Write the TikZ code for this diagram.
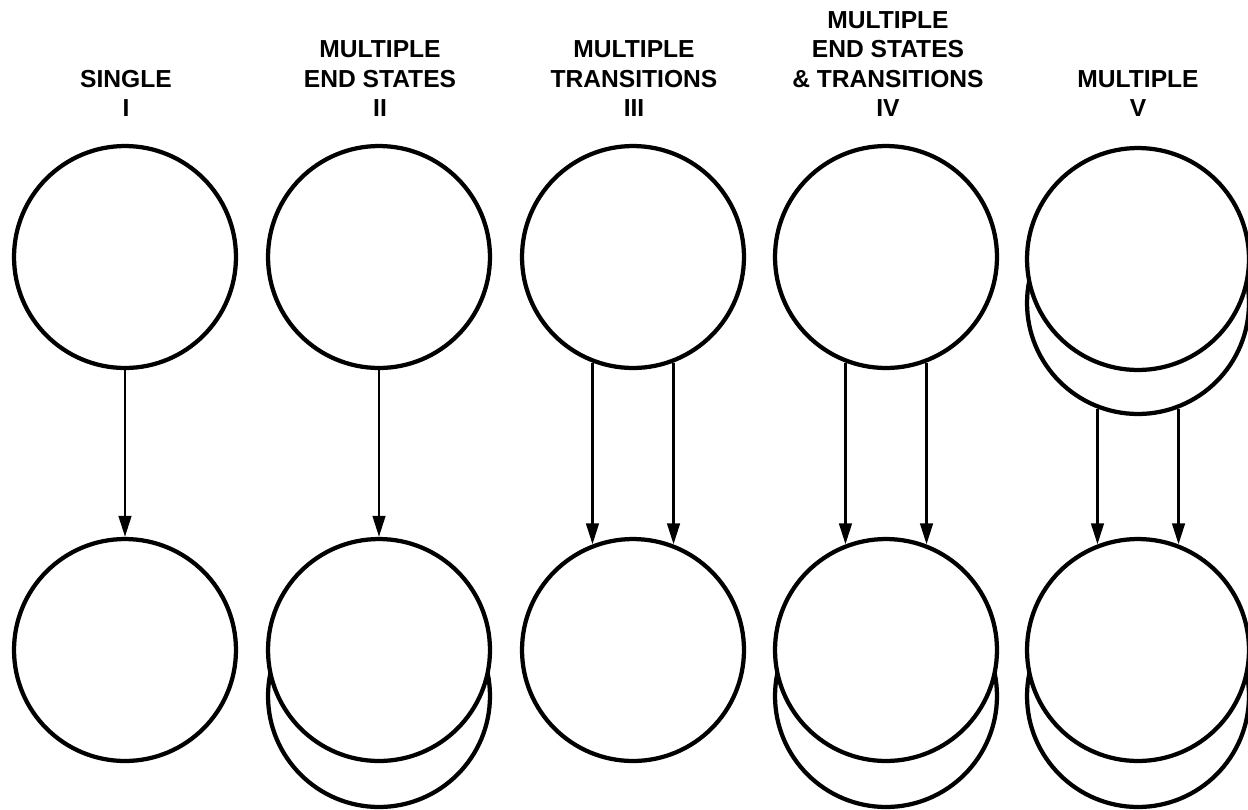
\documentclass[tikz,border=0pt]{standalone}
\usepackage{fontspec}
\setmainfont{Liberation Sans}
\usetikzlibrary{arrows.meta}
\begin{document}
\begin{tikzpicture}[x=0.02cm,y=-0.02cm,
  st/.style={circle,draw,line width=0.085cm,fill=white,minimum size=4.44cm,inner sep=0pt},
  lbl/.style={align=center,anchor=south,inner sep=0pt,font=\fontsize{14}{16.8}\selectfont\bfseries},
  arr/.style={line width=0.055cm,-{Triangle[length=0.42cm,width=0.25cm]}}]
\useasboundingbox (0,0) rectangle (1248,809);
% labels
\node[lbl] (l1) at (126,117) {SINGLE\\I};
\node[lbl] (l2) at (380,117) {MULTIPLE\\END STATES\\II};
\node[lbl] (l3) at (634,117) {MULTIPLE\\TRANSITIONS\\III};
\node[lbl] (l4) at (888,117) {MULTIPLE\\END STATES\\\&~TRANSITIONS\\IV};
\node[lbl] (l5) at (1138,117) {MULTIPLE\\V};
% column I
\node[st] (t1) at (125,257) {};
\node[st] (b1) at (125,650) {};
% column II
\node[st] (t2) at (379,257) {};
\node[st] (b2back) at (379,696) {};
\node[st] (b2) at (379,650) {};
% column III
\node[st] (t3) at (633,257) {};
\node[st] (b3) at (633,650) {};
% column IV
\node[st] (t4) at (886,257) {};
\node[st] (b4back) at (886,696) {};
\node[st] (b4) at (886,650) {};
% column V
\node[st] (t5back) at (1138,303) {};
\node[st] (t5) at (1138,259) {};
\node[st] (b5back) at (1138,696) {};
\node[st] (b5) at (1138,650) {};
% arrows
\draw[arr] (t1.south) -- (b1.north);
\draw[arr] (t2.south) -- (b2.north);
\draw[arr] (t3.-111) -- (t3.-111 |- b3.111);
\draw[arr] (t3.-69) -- (t3.-69 |- b3.69);
\draw[arr] (t4.-111) -- (t4.-111 |- b4.111);
\draw[arr] (t4.-69) -- (t4.-69 |- b4.69);
\draw[arr] (t5back.-111) -- (t5back.-111 |- b5.111);
\draw[arr] (t5back.-69) -- (t5back.-69 |- b5.69);
\end{tikzpicture}
\end{document}
